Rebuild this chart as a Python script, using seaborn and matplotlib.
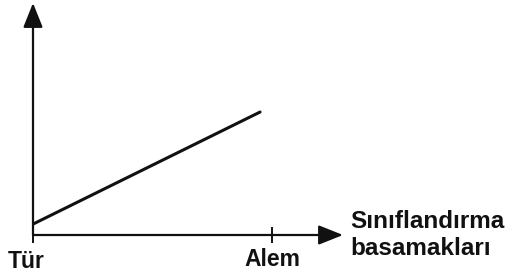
import matplotlib
matplotlib.use("Agg")
import matplotlib.pyplot as plt
import matplotlib.transforms as mtransforms
import seaborn as sns

# category levels on the x axis and the schematic trend line
levels = ["Tür", "Alem"]
level_pos = [0, 1]
trend_x = [0, 0.95]
trend_y = [0.047, 0.53]
x_title = "Sınıflandırma\nbasamakları"

sns.set_theme(style="white")
plt.rcParams['font.family'] = ['Liberation Sans', 'DejaVu Sans']

fig = plt.figure(figsize=(5.24, 2.8), dpi=100)
ax = fig.add_axes([33 / 524, 45 / 280, 310 / 524, 232 / 280])
ink = "#111111"

sns.lineplot(x=trend_x, y=trend_y, color=ink, linewidth=2.2, ax=ax)

ax.set_xlim(0, 310 / 239)
ax.set_ylim(0, 1)
for s in ax.spines.values():
    s.set_visible(False)

# axis arrows
arrow = dict(arrowstyle="-|>,head_length=0.75,head_width=0.3",
             mutation_scale=20, lw=1.6, color=ink, shrinkA=0, shrinkB=0)
ax.annotate("", xy=(1, 0), xytext=(0, 0), xycoords="axes fraction",
            arrowprops=arrow, annotation_clip=False)
ax.annotate("", xy=(0, 1), xytext=(0, 0), xycoords="axes fraction",
            arrowprops=arrow, annotation_clip=False)

ax.set_yticks([])
ax.set_xticks(level_pos)
ax.set_xticklabels(levels, fontsize=16.5, fontweight="bold", color=ink)
ax.tick_params(axis="x", direction="inout", length=11, width=1.4,
               color=ink, pad=4, bottom=True)
lab = ax.get_xticklabels()[0]
lab.set_transform(lab.get_transform() +
                  mtransforms.ScaledTranslation(-7 / 100, -1.5 / 100, fig.dpi_scale_trans))

ax.annotate(x_title, xy=(1, 0), xycoords="axes fraction",
            xytext=(7, 25), textcoords="offset pixels",
            ha="left", va="top", fontsize=17.5, fontweight="bold",
            color=ink, linespacing=1.2, annotation_clip=False)

fig.savefig("out.png", dpi=100, facecolor="white")
